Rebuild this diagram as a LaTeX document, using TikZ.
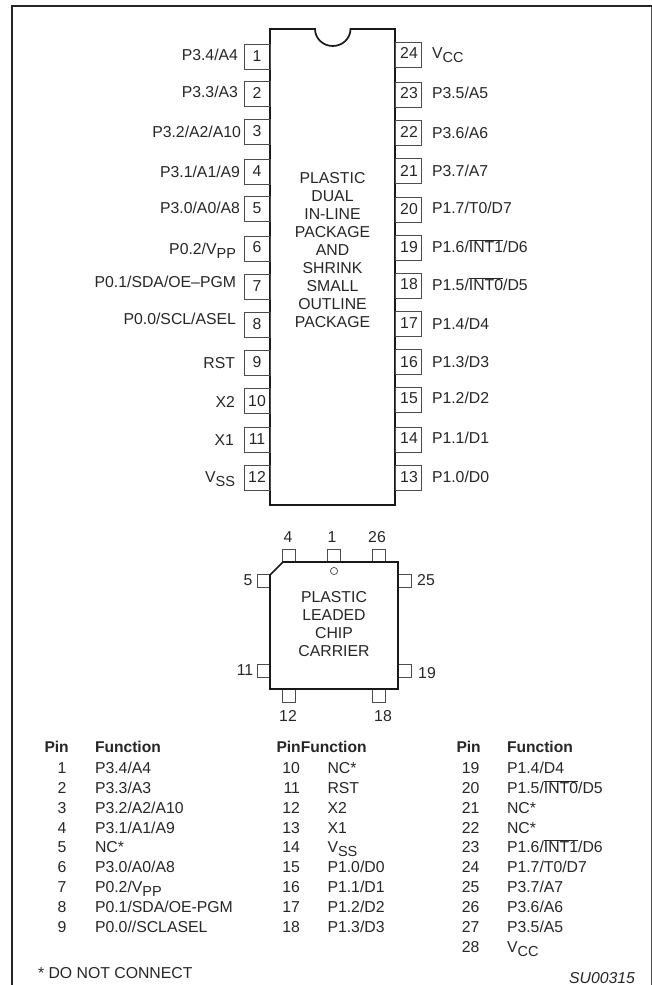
\documentclass[tikz,border=0pt]{standalone}
\usepackage{fontspec}
\setmainfont{Liberation Sans}

\tikzset{
  every node/.style={inner sep=0pt,outer sep=0pt,text=black!85,font=\fontsize{15.8}{18}\selectfont},
  pinbox/.style={draw=black!70,line width=.9pt,minimum width=26pt,minimum height=25pt},
  leadbox/.style={draw=black!70,line width=.9pt,fill=white,minimum width=13pt,minimum height=13pt},
  body/.style={draw=black!90,line width=1.7pt},
  txt/.style={anchor=base,yshift=-5.6pt},
  txtl/.style={anchor=base east,yshift=-5.6pt},
  txtr/.style={anchor=base west,yshift=-5.6pt},
  head/.style={anchor=base west,yshift=-5.6pt,font=\fontsize{15.6}{18}\selectfont\bfseries}
}
\newcommand{\lowered}[2]{#1\raisebox{-3.5pt}{\fontsize{14.5}{18}\selectfont #2}}
\newcommand{\barred}[1]{$\overline{\mbox{#1}}$}

\begin{document}
\begin{tikzpicture}[x=1pt,y=-1pt]
  \useasboundingbox (0,0) rectangle (652,985);
  % frame
  \draw [black!70,line width=1pt] (651,6) -- (651,985);
  \draw [black!85,line width=2pt] (12,985) -- (12,6);
  \draw [black!85,line width=2.6pt] (11,6) -- (652,6);

  % dual in-line body
  \draw [body] (270,29) -- (315,29) arc (180:0:17.75 and 17) -- (395,29) -- (395,505) -- (270,505) -- cycle;
  \node [align=center] (dip) at (332.5,250) {PLASTIC\\DUAL\\IN-LINE\\PACKAGE\\AND\\SHRINK\\SMALL\\OUTLINE\\PACKAGE};

  % left pins: number/box y/number y/label x/label y/label
  \foreach \n/\yb/\yn/\xl/\yl/\t in {
      1/56.5/56/238/55/{P3.4/A4},
      2/93.5/93/238/92/{P3.3/A3},
      3/132/131/241/132/{P3.2/A2/A10},
      4/171.5/171/240/172/{P3.1/A1/A9},
      5/208.5/208/240/208/{P3.0/A0/A8},
      6/248.5/247/236/249/{P0.2/\lowered{V}{PP}},
      7/286.5/286/236/282/{P0.1/SDA/OE--PGM},
      8/324.5/324/236/319/{P0.0/SCL/ASEL},
      9/362.5/362/235/363/{RST},
      10/401/401/235/402/{X2},
      11/439.5/439/234/440/{X1},
      12/477.5/477/235/477/{\lowered{V}{SS}}}{
    \node [pinbox] (pin\n) at (257,\yb) {};
    \node [txt] (num\n) at (257,\yn) {\n};
    \node [txtl] (lbl\n) at (\xl,\yl) {\t};
  }

  % right pins
  \foreach \n/\yb/\yn/\yl/\t in {
      24/55/53/53/{\lowered{V}{CC}},
      23/94.5/93/93/{P3.5/A5},
      22/132.5/132/133/{P3.6/A6},
      21/171/171/171/{P3.7/A7},
      20/209.5/209/208/{P1.7/T0/D7},
      19/247.5/247/247/{P1.6/\barred{INT1}/D6},
      18/285.5/284/285/{P1.5/\barred{INT0}/D5},
      17/324/323/324/{P1.4/D4},
      16/362/362/362/{P1.3/D3},
      15/399.5/398/398/{P1.2/D2},
      14/439.5/438/438/{P1.1/D1},
      13/477.5/477/477/{P1.0/D0}}{
    \node [pinbox] (pin\n) at (408.5,\yb) {};
    \node [txt] (num\n) at (409,\yn) {\n};
    \node [txtr] (lbl\n) at (432,\yl) {\t};
  }

  % leaded chip carrier
  \foreach \n/\x/\y in {4/289/555.5,1/334/555.5,26/378.5/555.5,5/263.5/580.5,25/404.5/580.5,
      11/263.5/670.5,19/404.5/670.5,12/289/695.5,18/378.5/695.5}
    \node [leadbox] (lead\n) at (\x,\y) {};
  \draw [body,fill=white] (283,562) -- (398,562) -- (398,689) -- (270,689) -- (270,575) -- cycle;
  \draw [black!70,line width=.7pt] (334,571) circle (3.6);
  \node [align=center] (plcc) at (334,624) {PLASTIC\\LEADED\\CHIP\\CARRIER};
  \foreach \n/\x/\y in {4/288/537,1/332/537,26/377/537,5/248/580,25/426/580,
      11/245/670,19/427/673,12/288/716,18/383/716}
    \node [txt] (leadnum\n) at (\x,\y) {\n};

  % pin table
  \node [head] (pina) at (44.5,747) {Pin};
  \node [head] (funa) at (95,747) {Function};
  \node [head] (pinb) at (276.5,747) {PinFunction};
  \node [head] (pinc) at (456.5,747) {Pin};
  \node [head] (func) at (507,747) {Function};
  \foreach \n/\y/\t in {1/768/{P3.4/A4},2/788/{P3.3/A3},3/808/{P3.2/A2/A10},4/828/{P3.1/A1/A9},
      5/847/{NC*},6/867/{P3.0/A0/A8},7/887/{P0.2/\lowered{V}{PP}},8/907/{P0.1/SDA/OE-PGM},
      9/927/{P0.0//SCLASEL}}{
    \node [txtl] (no\n) at (66.5,\y) {\n};
    \node [txtr] (fn\n) at (95,\y) {\t};
  }
  \foreach \n/\y/\t in {10/768/{NC*},11/788/{RST},12/808/{X2},13/828/{X1},14/847/{\lowered{V}{SS}},
      15/867/{P1.0/D0},16/887/{P1.1/D1},17/907/{P1.2/D2},18/927/{P1.3/D3}}{
    \node [txtl] (no\n) at (300,\y) {\n};
    \node [txtr] (fn\n) at (327.5,\y) {\t};
  }
  \foreach \n/\y/\t in {19/768/{P1.4/D4},20/788/{P1.5/\barred{INT0}/D5},21/808/{NC*},22/828/{NC*},
      23/847/{P1.6/\barred{INT1}/D6},24/867/{P1.7/T0/D7},25/887/{P3.7/A7},26/907/{P3.6/A6},
      27/927/{P3.5/A5},28/947/{\lowered{V}{CC}}}{
    \node [txtl] (no\n) at (479.5,\y) {\n};
    \node [txtr] (fn\n) at (507,\y) {\t};
  }

  % notes
  \node [txtr] (note) at (38,973) {* DO NOT CONNECT};
  \node [txtl,font=\fontsize{15.8}{18}\selectfont\itshape] (code) at (635,977.5) {SU00315};
\end{tikzpicture}
\end{document}
